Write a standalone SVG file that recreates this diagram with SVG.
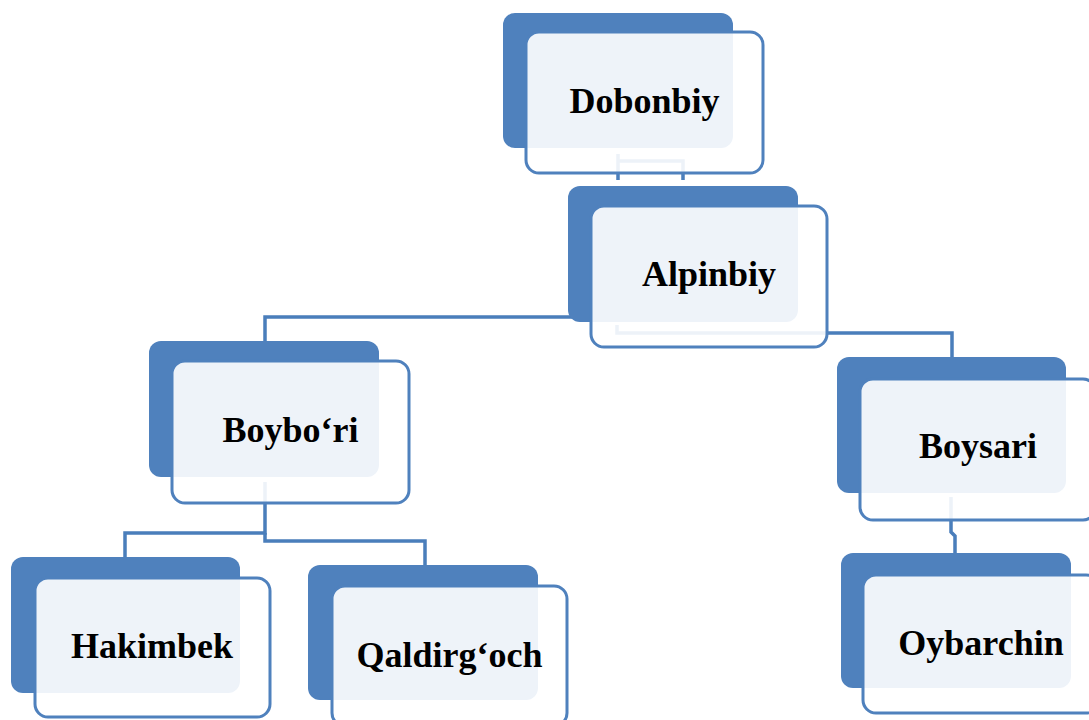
<svg xmlns="http://www.w3.org/2000/svg" width="1089" height="720" viewBox="0 0 1089 720">
<style>
.back{fill:#4F81BD}
.front{fill:#FFFFFF;fill-opacity:0.9;stroke:#4F81BD;stroke-width:3}
.conn{fill:none;stroke:#4A7EBB;stroke-width:3.5}
.lbl{font-family:"Liberation Serif","Times New Roman",serif;font-weight:bold;font-size:36px;fill:#000;text-anchor:middle}
</style>
<rect width="1089" height="720" fill="#FFFFFF"/>
<g id="connectors">
<path class="conn" d="M618,154 V180 M618,161 H683 V180"/>
<path class="conn" d="M617,317 H265 V341"/>
<path class="conn" d="M617,325 V333 H952 V357"/>
<path class="conn" d="M265,482 V533 H125 V557"/>
<path class="conn" d="M265,533 V541 H425 V565"/>
<path class="conn" d="M951,497 V532 L955,536 V553"/>
</g>
<g id="n-dobonbiy">
<rect class="back" x="503" y="13" width="230" height="135" rx="12"/>
<rect class="front" x="526" y="32" width="237" height="141" rx="13"/>
<text class="lbl" x="644.5" y="113">Dobonbiy</text>
</g>
<g id="n-alpinbiy">
<rect class="back" x="568" y="186" width="230" height="136" rx="12"/>
<rect class="front" x="591" y="206" width="236" height="141" rx="13"/>
<text class="lbl" x="709" y="286">Alpinbiy</text>
</g>
<g id="n-boybori">
<rect class="back" x="149" y="341" width="230" height="136" rx="12"/>
<rect class="front" x="172" y="361" width="237" height="142" rx="13"/>
<text class="lbl" x="290.5" y="442">Boybo‘ri</text>
</g>
<g id="n-boysari">
<rect class="back" x="837" y="357" width="229" height="136" rx="12"/>
<rect class="front" x="860" y="379" width="236" height="141" rx="13"/>
<text class="lbl" x="978" y="458">Boysari</text>
</g>
<g id="n-oybarchin">
<rect class="back" x="841" y="553" width="230" height="135" rx="12"/>
<rect class="front" x="863" y="575" width="236" height="138" rx="13"/>
<text class="lbl" x="981" y="655">Oybarchin</text>
</g>
<g id="n-hakimbek">
<rect class="back" x="11" y="557" width="229" height="136" rx="12"/>
<rect class="front" x="35" y="578" width="235" height="139" rx="13"/>
<text class="lbl" x="152" y="658">Hakimbek</text>
</g>
<g id="n-qaldirgoch">
<rect class="back" x="308" y="565" width="230" height="135" rx="12"/>
<rect class="front" x="332" y="586" width="235" height="140" rx="13"/>
<text class="lbl" x="449.5" y="667">Qaldirg‘och</text>
</g>
</svg>
